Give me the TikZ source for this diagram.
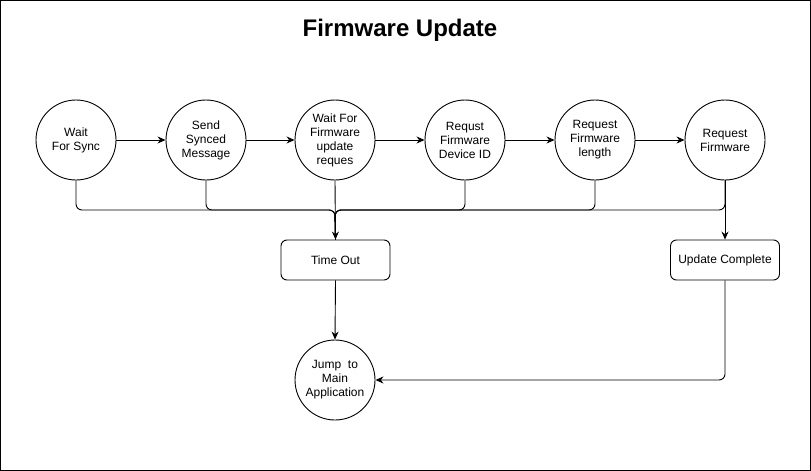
\documentclass[tikz,border=0pt]{standalone}
\usepackage{fontspec}
\setmainfont{Liberation Sans}
\usetikzlibrary{arrows.meta}
\begin{document}
\begin{tikzpicture}[x=1pt,y=-1pt,
  state/.style={circle,draw,line width=0.9pt,minimum size=80pt,inner sep=0pt,align=center,font=\fontsize{12}{14}\selectfont},
  box/.style={rectangle,rounded corners=6pt,draw,line width=0.9pt,minimum width=109pt,minimum height=40pt,inner sep=0pt,align=center,font=\fontsize{12}{14}\selectfont},
  arr/.style={line width=0.9pt,-{Stealth[length=8pt,width=7pt]}},
  ln/.style={line width=0.9pt,rounded corners=6pt}]
\draw[line width=0.9pt] (0.5,0.5) rectangle (810.5,470.5);
\useasboundingbox (0,0) rectangle (811,471);
\node[font=\fontsize{24}{28}\selectfont\bfseries] (title) at (400,30) {Firmware Update};
\node[state] (s1) at (76,140) {Wait\\For Sync};
\node[state] (s2) at (206,140) {Send\\Synced\\Message};
\node[state] (s3) at (335,140) {Wait For\\Firmware\\update\\reques};
\node[state] (s4) at (465,140) {Requst\\Firmware\\Device ID};
\node[state] (s5) at (595,140) {Request\\Firmware\\length};
\node[state] (s6) at (725,140) {Request\\Firmware};
\node[box] (to) at (335.5,260) {Time Out};
\node[box] (uc) at (725,260) {Update Complete};
\node[state] (jm) at (335,380) {Jump\ \ to\\Main\\Application};
\coordinate (m) at (335,210);
\draw[arr] (s1) -- (s2);
\draw[arr] (s2) -- (s3);
\draw[arr] (s3) -- (s4);
\draw[arr] (s4) -- (s5);
\draw[arr] (s5) -- (s6);
\draw[ln] (s1.south) |- (m) -- (to.north);
\draw[ln] (s2.south) |- (m) -- (to.north);
\draw[ln] (s4.south) |- (m) -- (to.north);
\draw[ln] (s5.south) |- (m) -- (to.north);
\draw[ln] (s6.south) |- (m) -- (to.north);
\draw[arr] (s3.south) -- (to.north);
\draw[arr] (s6.south) -- (uc.north);
\draw[arr] (to.south) -- (jm.north);
\draw[arr,rounded corners=6pt] (uc.south) |- (jm.east);
\end{tikzpicture}
\end{document}
